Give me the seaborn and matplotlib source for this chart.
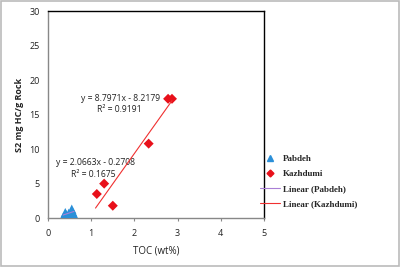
import matplotlib
matplotlib.use("Agg")
import numpy as np
import pandas as pd
import matplotlib.pyplot as plt
import seaborn as sb

# valori
pabdeh_toc = [0.35, 0.38, 0.40, 0.42, 0.45, 0.48, 0.50, 0.55, 0.57, 0.60]
pabdeh_s2 = [0.1, 0.3, 0.8, 0.5, 0.2, 0.7, 0.4, 1.3, 0.9, 0.5]
kazh_toc = [1.13, 1.30, 1.50, 2.33, 2.78, 2.87]
kazh_s2 = [3.5, 5.0, 1.8, 10.8, 17.3, 17.3]

fit_pabdeh = (2.0663, -0.2708, 0.1675)
fit_kazh = (8.7971, -8.2179, 0.9191)

df = pd.DataFrame({
    "TOC": pabdeh_toc + kazh_toc,
    "S2": pabdeh_s2 + kazh_s2,
    "Formatie": ["Pabdeh"] * len(pabdeh_toc) + ["Kazhdumi"] * len(kazh_toc),
})

sb.set_style("white")
plt.rcParams["font.family"] = ["Open Sans", "DejaVu Sans"]

fig = plt.figure(figsize=(4, 2.67), dpi=100)
ax = fig.add_axes([0.12, 0.183, 0.54, 0.775])

marimi = [45 if f == "Pabdeh" else 26 for f in df["Formatie"]]
sb.scatterplot(data=df, x="TOC", y="S2", hue="Formatie", style="Formatie",
               palette={"Pabdeh": "#2a8fd8", "Kazhdumi": "#e8101a"},
               markers={"Pabdeh": "^", "Kazhdumi": "D"},
               s=marimi, edgecolor="none", ax=ax, legend=False, zorder=3)

xp = np.array([min(pabdeh_toc), max(pabdeh_toc)])
xk = np.array([min(kazh_toc) - 0.03, max(kazh_toc)])
ax.plot(xp, fit_pabdeh[0] * xp + fit_pabdeh[1], color="#a97fd6", lw=0.8, zorder=4)
ax.plot(xk, fit_kazh[0] * xk + fit_kazh[1], color="#f03030", lw=0.8, zorder=4)

txt = dict(fontsize=6.2, ha="center", va="center", color="#222222")
ax.text(1.67, 17.3, "y = 8.7971x - 8.2179", **txt)
ax.text(1.65, 15.8, "R² = 0.9191", **txt)
ax.text(1.09, 8.0, "y = 2.0663x - 0.2708", **txt)
ax.text(1.05, 6.3, "R² = 0.1675", **txt)

ax.set_xlim(0, 5)
ax.set_ylim(0, 30)
ax.set_xticks(range(0, 6))
ax.set_yticks(range(0, 31, 5))
ax.tick_params(labelsize=6.5, length=2, colors="#222222", pad=4)
ax.tick_params(axis="x", direction="out", bottom=True, color="#888888", pad=6)
ax.set_xlabel("TOC (wt%)", fontsize=7, color="#222222", labelpad=5)
ax.set_ylabel("S2 mg HC/g Rock", fontsize=6.5, fontweight="bold", color="#222222")

for k in ["top", "right"]:
    ax.spines[k].set_color("black")
    ax.spines[k].set_linewidth(1.0)
for k in ["left", "bottom"]:
    ax.spines[k].set_color("#888888")
    ax.spines[k].set_linewidth(1.0)

# legenda
handles = [
    plt.Line2D([], [], ls="none", marker="^", color="#2a8fd8", ms=5),
    plt.Line2D([], [], ls="none", marker="D", color="#e8101a", ms=3.5),
    plt.Line2D([], [], color="#a97fd6", lw=0.8),
    plt.Line2D([], [], color="#f03030", lw=0.8),
]
labels = ["Pabdeh", "Kazhdumi", "Linear (Pabdeh)", "Linear (Kazhdumi)"]
leg = fig.legend(handles, labels, loc="upper left", bbox_to_anchor=(0.63, 0.45),
                 frameon=False, handlelength=2.2, handletextpad=0.3, labelspacing=0.75,
                 prop={"family": "Liberation Serif", "weight": "bold", "size": 6.5})

fig.patches.append(plt.Rectangle((0.002, 0.004), 0.995, 0.993, transform=fig.transFigure,
                                 fill=False, edgecolor="#bbbbbb", lw=1.2))

fig.savefig("out.png", dpi=100)
